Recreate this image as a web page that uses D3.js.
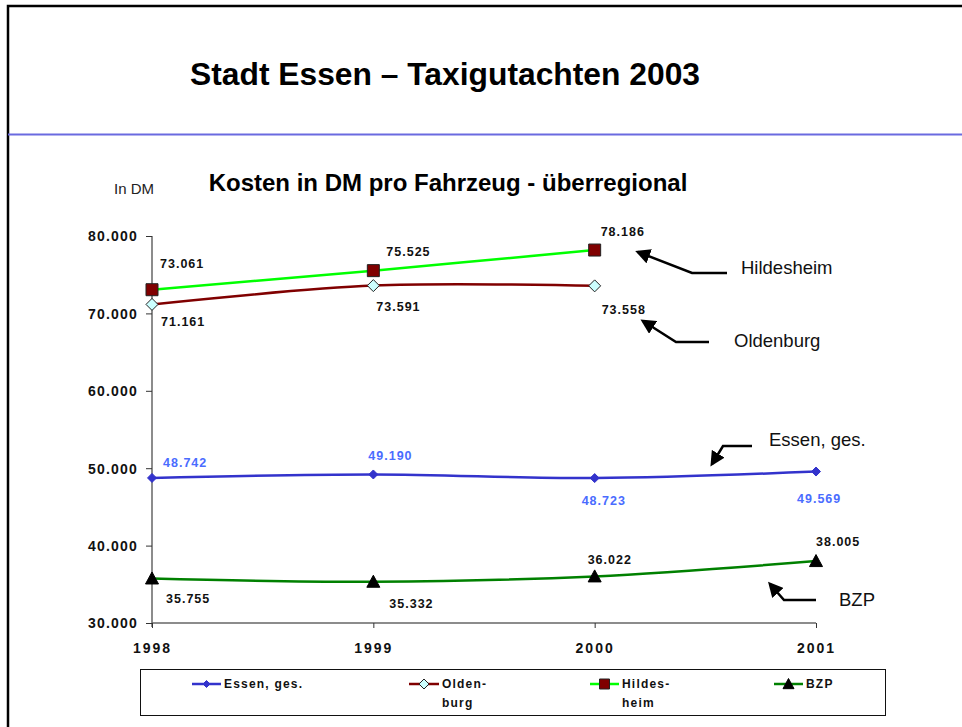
<!DOCTYPE html>
<html>
<head>
<meta charset="utf-8">
<script src="https://cdnjs.cloudflare.com/ajax/libs/d3/7.8.5/d3.min.js"></script>
<style>
body { margin: 0; background: #fff; }
svg text { font-family: Arial, "Liberation Sans", sans-serif; }
.ytick { font-size: 14px; font-weight: bold; letter-spacing: 1.2px; fill: #111; }
.xtick { font-size: 14px; font-weight: bold; letter-spacing: 2px; fill: #111; }
.val { font-size: 12.5px; font-weight: bold; letter-spacing: 1px; }
.leg { font-size: 12px; font-weight: bold; letter-spacing: 1.2px; fill: #111; }
.note { font-size: 18.5px; fill: #111; }
</style>
</head>
<body>
<script>
// years on the x axis
var years = [1998, 1999, 2000, 2001];
var yTicks = [30000, 40000, 50000, 60000, 70000, 80000];

// series values (DM per vehicle)
var essen = [48742, 49190, 48723, 49569];
var oldenburg = [71161, 73591, 73558];
var hildesheim = [73061, 75525, 78186];
var bzp = [35755, 35332, 36022, 38005];

var width = 962, height = 727;

var svg = d3.select("body").append("svg")
	.attr("width", width)
	.attr("height", height);

// slide frame
svg.append("path")
	.attr("d", "M8,727 V6 H962")
	.attr("fill", "none")
	.attr("stroke", "#000")
	.attr("stroke-width", 2.5);

svg.append("line")
	.attr("x1", 8).attr("x2", 962)
	.attr("y1", 134.5).attr("y2", 134.5)
	.attr("stroke", "#6a6ae0")
	.attr("stroke-width", 2);

svg.append("text")
	.attr("x", 190).attr("y", 85)
	.attr("textLength", 510)
	.attr("lengthAdjust", "spacingAndGlyphs")
	.style("font-family", "'Liberation Sans Narrow', 'Arial Narrow', Arial, sans-serif")
	.style("font-size", "31px")
	.style("font-weight", "bold")
	.text("Stadt Essen \u2013 Taxigutachten 2003");

svg.append("text")
	.attr("x", 448).attr("y", 191)
	.attr("text-anchor", "middle")
	.style("font-size", "24px")
	.style("font-weight", "bold")
	.text("Kosten in DM pro Fahrzeug - \u00fcberregional");

svg.append("text")
	.attr("x", 114).attr("y", 194)
	.style("font-size", "15px")
	.attr("fill", "#222")
	.text("In DM");

// scales
var x = d3.scalePoint().domain(years).range([152, 816]);
var y = d3.scaleLinear().domain([30000, 80000]).range([623, 236]);

var fmtVal = function(v){ return d3.format(".3f")(v / 1000); };

// y axis
var yAxis = svg.append("g")
	.attr("transform", "translate(152,0)")
	.call(d3.axisLeft(y).tickValues(yTicks).tickSize(6).tickFormat(fmtVal));
yAxis.select(".domain").attr("stroke", "#666").attr("stroke-width", 1.5).attr("d", "M0,236V627");
yAxis.selectAll(".tick line").attr("stroke", "#333");
yAxis.selectAll(".tick text").attr("class", "ytick").attr("x", -14).attr("dy", "0.35em");

// x axis
var xAxis = svg.append("g")
	.attr("transform", "translate(0,623)")
	.call(d3.axisBottom(x).tickSize(5).tickSizeOuter(0));
xAxis.select(".domain").attr("stroke", "#666").attr("stroke-width", 1.5).attr("d", "M152,0H816");
xAxis.selectAll(".tick line").attr("stroke", "#333");
xAxis.selectAll(".tick text").attr("class", "xtick").attr("y", 25).attr("dy", "0.35em");

var line = d3.line()
	.x(function(d, i){ return x(years[i]); })
	.y(function(d){ return y(d); })
	.curve(d3.curveCatmullRom.alpha(0));

// marker shapes, r = half width
function markerPath(type, r){
	if (type === "diamond") return "M0," + (-r) + "L" + r + ",0L0," + r + "L" + (-r) + ",0Z";
	if (type === "square") return "M" + (-r) + "," + (-r) + "H" + r + "V" + r + "H" + (-r) + "Z";
	return "M0," + (-r) + "L" + r + "," + (r * 0.85) + "H" + (-r) + "Z";
}

var series = [
	{name: "Essen", values: essen, color: "#3333cc", marker: "diamond", mfill: "#3333cc", mstroke: "#3333cc", r: 4.5},
	{name: "Oldenburg", values: oldenburg, color: "#800000", marker: "diamond", mfill: "#ccffff", mstroke: "#222", r: 6},
	{name: "Hildesheim", values: hildesheim, color: "#00ff00", marker: "square", mfill: "#800000", mstroke: "#222", r: 6},
	{name: "BZP", values: bzp, color: "#008000", marker: "triangle", mfill: "#000", mstroke: "#000", r: 6.5}
];

series.forEach(function(s){
	svg.append("path")
		.datum(s.values)
		.attr("fill", "none")
		.attr("stroke", s.color)
		.attr("stroke-width", 2.5)
		.attr("d", line);
});

series.forEach(function(s){
	svg.selectAll(".m-" + s.name)
		.data(s.values)
		.enter().append("path")
		.attr("class", "m-" + s.name)
		.attr("transform", function(d, i){ return "translate(" + x(years[i]) + "," + y(d) + ")"; })
		.attr("d", markerPath(s.marker, s.r))
		.attr("fill", s.mfill)
		.attr("stroke", s.mstroke)
		.attr("stroke-width", 1);
});

// data labels: offset from each point
var labelOffsets = {
	Essen: [[11, -11], [-5, -14], [-13, 27], [-19, 31]],
	Oldenburg: [[9, 22], [3, 25], [7, 28]],
	Hildesheim: [[8, -22], [13, -15], [6, -14]],
	BZP: [[14, 25], [16, 26], [-7, -12], [0, -15]]
};
var labelColors = {Essen: "#4a6cff", Oldenburg: "#111", Hildesheim: "#111", BZP: "#111"};

series.forEach(function(s){
	svg.selectAll(".v-" + s.name)
		.data(s.values)
		.enter().append("text")
		.attr("class", "val")
		.attr("fill", labelColors[s.name])
		.attr("x", function(d, i){ return x(years[i]) + labelOffsets[s.name][i][0]; })
		.attr("y", function(d, i){ return y(d) + labelOffsets[s.name][i][1]; })
		.text(fmtVal);
});

// annotation arrows
svg.append("defs").append("marker")
	.attr("id", "head")
	.attr("viewBox", "0 0 10 10")
	.attr("refX", 8).attr("refY", 5)
	.attr("markerWidth", 6).attr("markerHeight", 6)
	.attr("orient", "auto")
	.append("path")
	.attr("d", "M0,0 L10,5 L0,10 Z")
	.attr("fill", "#000");

var notes = [
	{text: "Hildesheim", tx: 741, ty: 274, path: "M727,273 H692 L638,252"},
	{text: "Oldenburg", tx: 734, ty: 347, path: "M709,342 H676 L643,321"},
	{text: "Essen, ges.", tx: 769, ty: 446, path: "M752,446 H723 L712,464"},
	{text: "BZP", tx: 839, ty: 606, path: "M816,600 H784 L770,584"}
];

notes.forEach(function(n){
	svg.append("path")
		.attr("d", n.path)
		.attr("fill", "none")
		.attr("stroke", "#000")
		.attr("stroke-width", 2.5)
		.attr("marker-end", "url(#head)");
	svg.append("text")
		.attr("class", "note")
		.attr("x", n.tx).attr("y", n.ty)
		.text(n.text);
});

// legend
var legend = svg.append("g");
legend.append("rect")
	.attr("x", 140.5).attr("y", 669.5)
	.attr("width", 745).attr("height", 46)
	.attr("fill", "#fff")
	.attr("stroke", "#111")
	.attr("stroke-width", 1);

var legendItems = [
	{lines: ["Essen, ges."], x0: 192, x1: 221},
	{lines: ["Olden-", "burg"], x0: 409, x1: 439},
	{lines: ["Hildes-", "heim"], x0: 590, x1: 619},
	{lines: ["BZP"], x0: 774, x1: 803}
];

legendItems.forEach(function(item, i){
	var s = series[i];
	var cy = 684;
	legend.append("line")
		.attr("x1", item.x0).attr("x2", item.x1)
		.attr("y1", cy).attr("y2", cy)
		.attr("stroke", s.color)
		.attr("stroke-width", 2.5);
	legend.append("path")
		.attr("transform", "translate(" + ((item.x0 + item.x1) / 2) + "," + cy + ")")
		.attr("d", markerPath(s.marker, s.r - 1))
		.attr("fill", s.mfill)
		.attr("stroke", s.mstroke)
		.attr("stroke-width", 1);
	item.lines.forEach(function(t, j){
		legend.append("text")
			.attr("class", "leg")
			.attr("x", item.x1 + 3)
			.attr("y", cy + 4 + j * 19)
			.text(t);
	});
});
</script>
</body>
</html>
